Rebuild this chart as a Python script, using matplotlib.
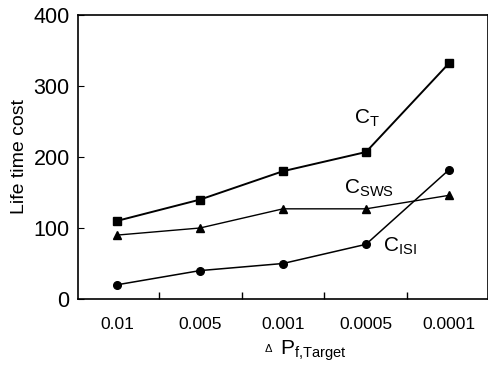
import matplotlib
matplotlib.use('Agg')
import matplotlib.pyplot as plt
from matplotlib.ticker import FixedLocator

plt.rcParams['font.family'] = ['Liberation Sans', 'DejaVu Sans']
plt.rcParams['mathtext.fontset'] = 'custom'
plt.rcParams['mathtext.rm'] = 'Liberation Sans'
plt.rcParams['mathtext.it'] = 'Liberation Sans'
plt.rcParams['mathtext.bf'] = 'Liberation Sans:bold'

# data
targets = ['0.01', '0.005', '0.001', '0.0005', '0.0001']
c_t = [110, 140, 180, 207, 332]
c_sws = [90, 100, 127, 127, 146]
c_isi = [20, 40, 50, 77, 182]

x = list(range(len(targets)))

fig = plt.figure(figsize=(4.89, 3.70), dpi=100)
ax = fig.add_axes([78/489, 71/370, 410/489, 284/370])

ax.plot(x, c_t, '-s', color='black', lw=1.4, ms=6)
ax.plot(x, c_sws, '-^', color='black', lw=1.0, ms=5.5)
ax.plot(x, c_isi, '-o', color='black', lw=1.1, ms=5.5)

# curve labels
ax.text(2.86, 247, r'C$_{\rm T}$', fontsize=15)
ax.text(2.74, 148, r'C$_{\rm SWS}$', fontsize=15)
ax.text(3.2, 66, r'C$_{\rm ISI}$', fontsize=15)

ax.set_xlim(-0.47, 4.47)
ax.set_ylim(0, 400)
ax.set_xticks(x)
ax.set_xticklabels(targets, fontsize=12.5)
ax.xaxis.set_minor_locator(FixedLocator([0.5, 1.5, 2.5, 3.5]))
ax.tick_params(axis='x', which='major', length=0, pad=13)
ax.tick_params(axis='x', which='minor', direction='in', length=5, width=1)
ax.set_yticks([0, 100, 200, 300, 400])
ax.tick_params(axis='y', direction='in', length=4.5, labelsize=15.5, pad=6)

for s in ax.spines.values():
    s.set_linewidth(1.2)

ax.set_ylabel('Life time cost', fontsize=14)
ax.yaxis.set_label_coords(-0.122, 0.5)
ax.set_xlabel(r'P$_{\mathrm{f{,}Target}}$', fontsize=15)
ax.xaxis.set_label_coords(0.573, -0.138)
fig.text(268/489, 1 - 349/370, '\u0394', fontsize=8, ha='center', va='center')

plt.savefig('out.png', dpi=100, facecolor='white')
